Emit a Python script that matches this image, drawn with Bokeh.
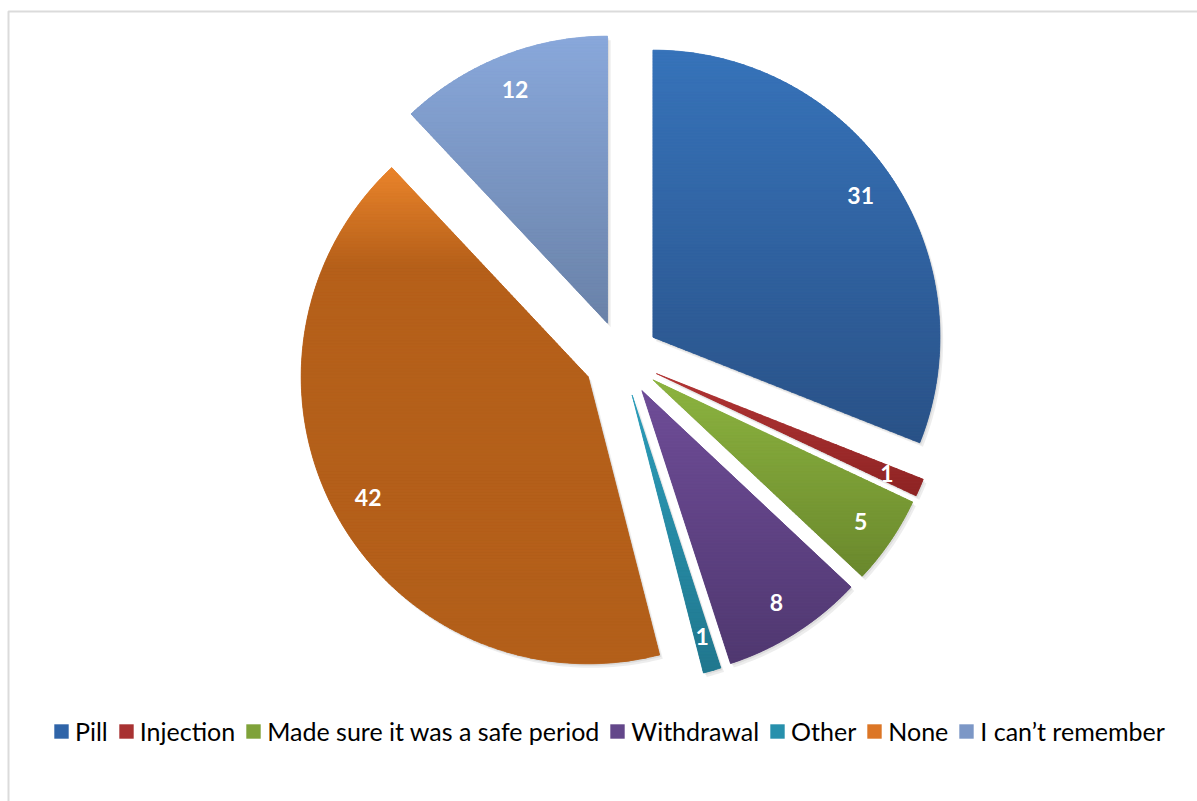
import math
from bokeh.plotting import figure
from bokeh.models import Range1d, Legend, LegendItem, BoxAnnotation, ColumnDataSource
from bokeh.core.properties import value
from bokeh.embed import file_html
from bokeh.resources import INLINE

# ---------------- data ----------------
categories = ["Pill", "Injection", "Made sure it was a safe period", "Withdrawal",
              "Other", "None", "I can\u2019t remember"]
values = [31, 1, 5, 8, 1, 42, 12]
labels = ["31", "1", "5", "8", "1", "42", "12"]

# gradient stops (top -> bottom) for each slice, and flat legend colours
grad_stops = [
    [(0.0, "#3773BA"), (1.0, "#2A5287")],
    [(0.0, "#B23535"), (1.0, "#8E2424")],
    [(0.0, "#8DB440"), (1.0, "#6A882D")],
    [(0.0, "#6F4D98"), (1.0, "#503870")],
    [(0.0, "#2C9DBA"), (1.0, "#21778E")],
    [(0.0, "#EA842B"), (0.2, "#B5601A"), (1.0, "#B35F1A")],
    [(0.0, "#89A8DB"), (1.0, "#6A82A8")],
]
legend_colors = ["#2F64A8", "#A83232", "#7FA23A", "#63478A", "#2790AC", "#DC7626", "#7C97C6"]

# ---------------- layout parameters ----------------
W, H = 1197, 801
CX, CY = 621.0, H - 358.0   # pie centre (data units = pixels, y up)
R = 287.0
EXPLODE = 38.0
LABEL_FRAC = 0.875


def hex2rgb(h):
    h = h.lstrip("#")
    return tuple(int(h[i:i + 2], 16) for i in (0, 2, 4))


def interp(stops, t):
    t = min(max(t, 0.0), 1.0)
    for (t0, c0), (t1, c1) in zip(stops[:-1], stops[1:]):
        if t <= t1:
            f = 0 if t1 == t0 else (t - t0) / (t1 - t0)
            a, b = hex2rgb(c0), hex2rgb(c1)
            return "#%02x%02x%02x" % tuple(int(round(a[i] + (b[i] - a[i]) * f)) for i in range(3))
    return stops[-1][1]


def clip_half(poly, yv, keep_above):
    out = []
    n = len(poly)
    for i in range(n):
        p1 = poly[i]
        p2 = poly[(i + 1) % n]
        in1 = (p1[1] >= yv) if keep_above else (p1[1] <= yv)
        in2 = (p2[1] >= yv) if keep_above else (p2[1] <= yv)
        if in1:
            out.append(p1)
        if in1 != in2:
            f = (yv - p1[1]) / (p2[1] - p1[1])
            out.append((p1[0] + f * (p2[0] - p1[0]), yv))
    return out


p = figure(width=W, height=H, output_backend="svg", toolbar_location=None,
           x_range=Range1d(0, W), y_range=Range1d(0, H), min_border=0,
           outline_line_color=None, background_fill_color="white",
           border_fill_color="white")
p.axis.visible = False
p.grid.visible = False

# chart-area frame (extends beyond the window on the right and bottom)
p.add_layout(BoxAnnotation(left=8, right=W + 50, top=H - 11, bottom=-50,
                           fill_alpha=0, line_color="#878787", line_width=2))

total = float(sum(values))
cum = 0.0
polys = []
shadow_xs, shadow_ys = [], []
band_xs, band_ys, band_cols = [], [], []
lab_x, lab_y = [], []
for i, v in enumerate(values):
    a0 = cum / total * 2 * math.pi
    a1 = (cum + v) / total * 2 * math.pi
    cum += v
    mid = (a0 + a1) / 2
    ax = CX + EXPLODE * math.sin(mid)
    ay = CY + EXPLODE * math.cos(mid)
    n = max(6, int(math.degrees(a1 - a0)))
    poly = [(ax, ay)]
    for k in range(n + 1):
        a = a0 + (a1 - a0) * k / n
        poly.append((ax + R * math.sin(a), ay + R * math.cos(a)))
    polys.append(poly)
    for off in (2.0, 4.0):
        shadow_xs.append([q[0] + off * 0.8 for q in poly])
        shadow_ys.append([q[1] - off for q in poly])
    ytop = max(q[1] for q in poly)
    ybot = min(q[1] for q in poly)
    hgt = ytop - ybot
    nb = max(4, int(math.ceil(hgt / 3.0)))
    for b in range(nb):
        yhi = ytop - hgt * b / nb
        ylo = ytop - hgt * (b + 1) / nb
        piece = clip_half(clip_half(poly, ylo, True), yhi, False)
        if len(piece) < 3:
            continue
        band_xs.append([q[0] for q in piece])
        band_ys.append([q[1] for q in piece])
        band_cols.append(interp(grad_stops[i], (b + 0.5) / nb))
    lab_x.append(ax + LABEL_FRAC * R * math.sin(mid))
    lab_y.append(ay + LABEL_FRAC * R * math.cos(mid))

p.patches(xs=shadow_xs, ys=shadow_ys, fill_color="black", fill_alpha=0.07, line_color=None)

# base (flat) slices, also used for the legend swatches
items = []
for cat, col, poly in zip(categories, legend_colors, polys):
    r = p.patch(x=[q[0] for q in poly], y=[q[1] for q in poly], fill_color=col, line_color=None)
    items.append(LegendItem(label=cat, renderers=[r]))

# gradient bands on top
p.patches(source=ColumnDataSource(dict(xs=band_xs, ys=band_ys, c=band_cols)),
          xs="xs", ys="ys", fill_color="c", line_color="c", line_width=0.8)

p.text(x=lab_x, y=lab_y, text=labels, text_color="white",
       text_font=value("Lato"), text_font_style="bold", text_font_size="23px",
       text_align="center", text_baseline="middle")

legend = Legend(items=items, orientation="horizontal", location=(52, 55),
                glyph_width=18, glyph_height=18, label_standoff=5, spacing=9,
                padding=0, margin=0, border_line_color=None, background_fill_alpha=0,
                label_text_font="Lato", label_text_font_size="25px",
                label_text_color="#000000", label_height=20)
p.add_layout(legend)

open("out.html", "w").write(file_html(p, INLINE))
